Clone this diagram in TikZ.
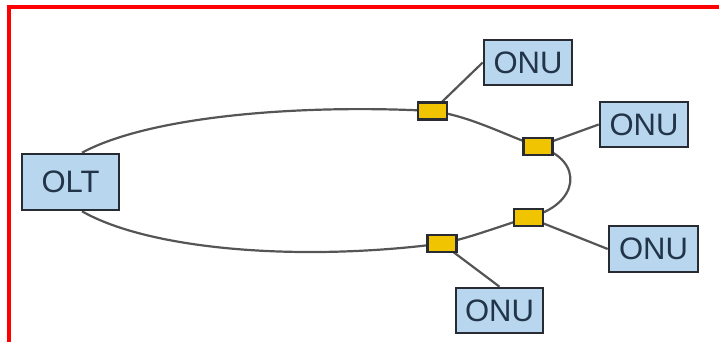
\documentclass[tikz,border=0pt]{standalone}
\usepackage{fontspec}
\setmainfont{Liberation Sans}
\usetikzlibrary{backgrounds}
\begin{document}
\definecolor{boxblue}{RGB}{184,214,238}
\definecolor{boxline}{RGB}{40,44,50}
\definecolor{txt}{RGB}{34,52,72}
\definecolor{splityellow}{RGB}{240,196,0}
\definecolor{fibre}{RGB}{85,85,85}
\tikzset{
  unit/.style={draw=boxline, line width=2.6pt, fill=boxblue, text=txt,
    inner sep=0pt, font=\fontsize{31}{31}\selectfont},
  splitter/.style={draw=boxline, line width=2.4pt, fill=splityellow,
    minimum width=29pt, minimum height=17pt, inner sep=0pt},
  fibreline/.style={draw=fibre, line width=2.2pt},
  frameline/.style={draw=red, line width=4pt}
}
\begin{tikzpicture}[x=1pt,y=-1pt]
  \useasboundingbox (0,0) rectangle (719,342);
  % page frame (only top and left edges show)
  \draw[frameline] (9,342) -- (9,7) -- (719,7);

  % terminal units
  \node[unit, minimum width=97pt, minimum height=56pt] (olt) at (70.5,182) {OLT};
  \node[unit, minimum width=88pt, minimum height=45pt] (onu1) at (528,62.5) {ONU};
  \node[unit, minimum width=88pt, minimum height=45pt] (onu2) at (644,124.5) {ONU};
  \node[unit, minimum width=89pt, minimum height=46pt] (onu3) at (653.5,249) {ONU};
  \node[unit, minimum width=87pt, minimum height=45pt] (onu4) at (499.5,310.5) {ONU};

  % splitters on the ring
  \node[splitter] (s1) at (432.5,111) {};
  \node[splitter] (s2) at (538,146.5) {};
  \node[splitter] (s3) at (528.5,217.5) {};
  \node[splitter] (s4) at (442,243.5) {};

  \begin{pgfonlayer}{background}
    % ring fibre
    \path[fibreline] ([xshift=11.5pt]olt.north) .. controls (150,116) and (300,104) .. (s1.center);
    \path[fibreline] (s1.center) .. controls (470,116) and (505,135) .. (s2.center);
    \path[fibreline] (s2.center) .. controls (585,160) and (580,205) .. (s3.center);
    \path[fibreline] (s3.center) .. controls (500,226) and (470,238) .. (s4.center);
    \path[fibreline] (s4.center) .. controls (300,262) and (150,250) .. ([xshift=11.5pt]olt.south);

    % drop fibres
    \path[fibreline] (s1.center) -- (onu1.west);
    \path[fibreline] (s2.center) -- (onu2.west);
    \path[fibreline] (s3.center) -- (onu3.west);
    \path[fibreline] (s4.center) -- (onu4.north);
  \end{pgfonlayer}
\end{tikzpicture}
\end{document}
